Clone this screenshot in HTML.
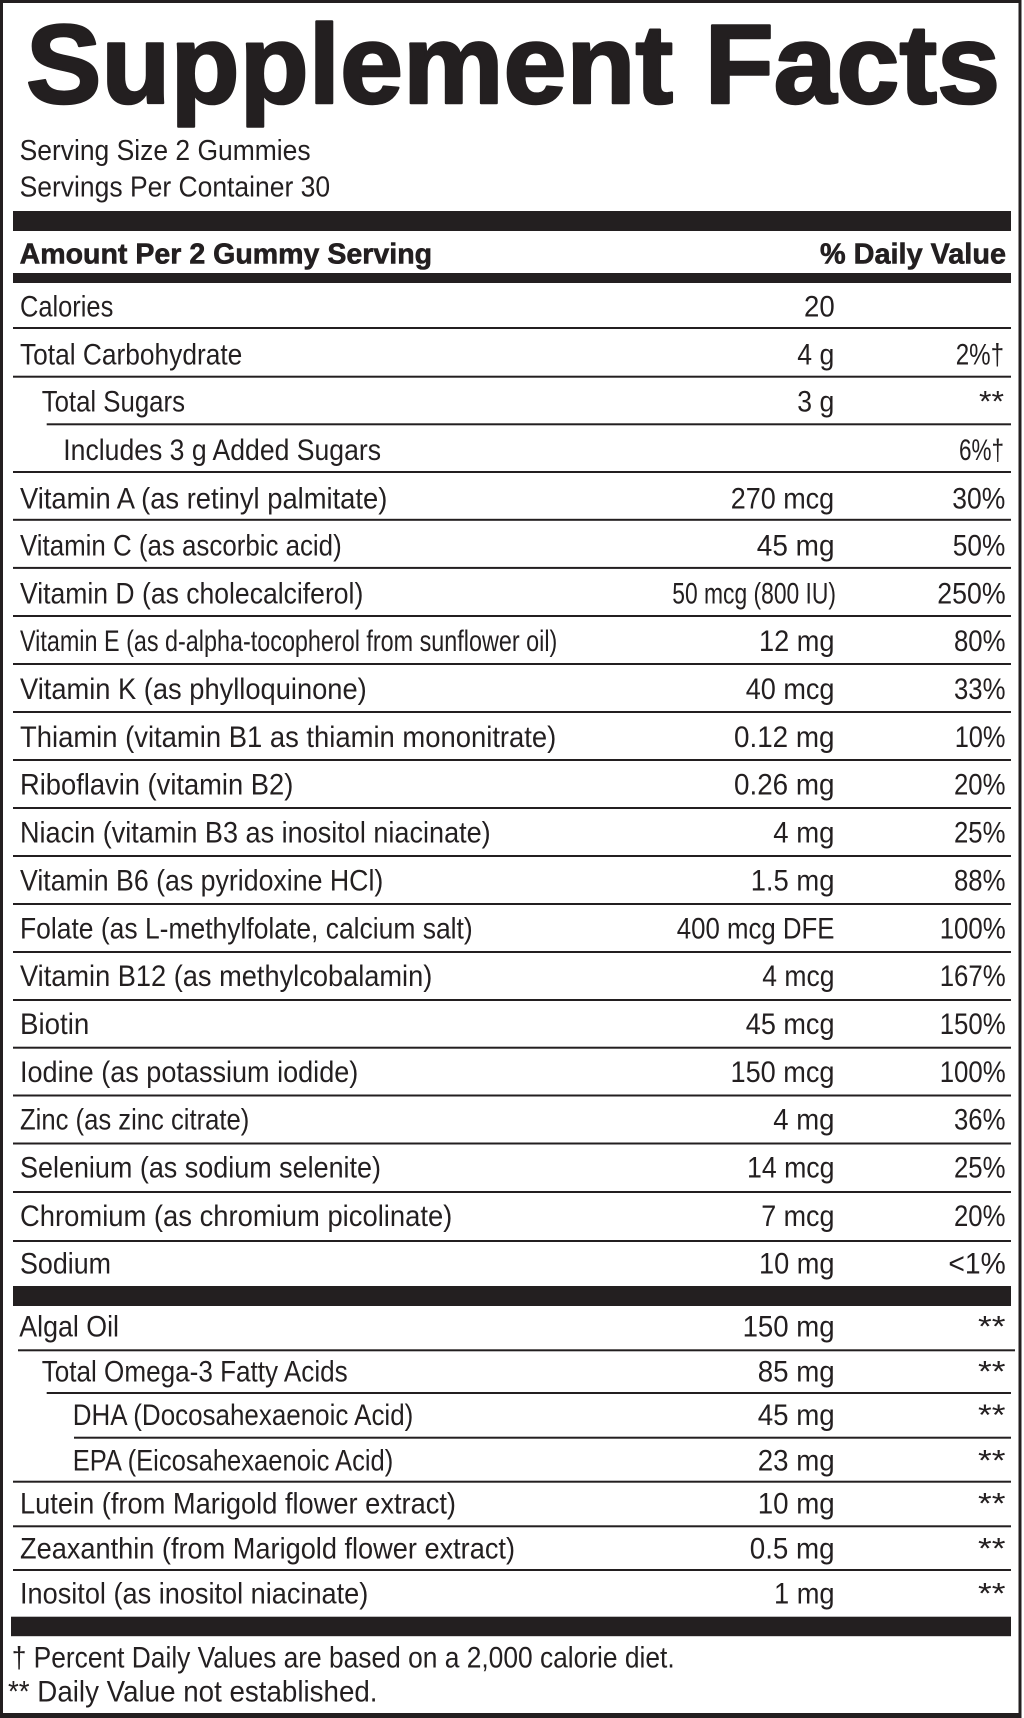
<!DOCTYPE html>
<html>
<head>
<meta charset="utf-8">
<style>
  html,body{margin:0;padding:0;background:#fff;}
  svg{display:block;}
  text{font-family:"Liberation Sans", Arial, sans-serif; fill:#231f20;}
  .b{font-size:30px;}
  .h{font-size:29px;font-weight:bold;stroke:#231f20;stroke-width:0.6px;}
  .t{font-size:112px;font-weight:bold;stroke:#231f20;stroke-width:2.5px;stroke-linejoin:round;}
  .s{font-size:29px;}
</style>
</head>
<body>
<svg width="1024" height="1718" viewBox="0 0 1024 1718" xmlns="http://www.w3.org/2000/svg">
  <rect x="0" y="0" width="1024" height="1718" fill="#fff"/>
  <!-- outer border -->
  <rect x="0" y="0" width="1021.5" height="3" fill="#231f20"/>
  <rect x="0" y="0" width="3" height="1718" fill="#231f20"/>
  <rect x="1018.5" y="0" width="3" height="1718" fill="#231f20"/>
  <rect x="0" y="1713" width="1021.5" height="5" fill="#231f20"/>

  <!-- title -->
  <text class="t" x="26" y="103" textLength="974" lengthAdjust="spacingAndGlyphs">Supplement Facts</text>
  <text class="s" x="19.6" y="160" textLength="291" lengthAdjust="spacingAndGlyphs">Serving Size 2 Gummies</text>
  <text class="s" x="19.6" y="196.7" textLength="310.5" lengthAdjust="spacingAndGlyphs">Servings Per Container 30</text>

  <!-- bars -->
  <rect x="13" y="211" width="998" height="20" fill="#231f20"/>
  <text class="h" x="19.6" y="263.3" textLength="412.5" lengthAdjust="spacingAndGlyphs">Amount Per 2 Gummy Serving</text>
  <text class="h" x="820" y="263.3" textLength="186" lengthAdjust="spacingAndGlyphs">% Daily Value</text>
  <rect x="13" y="273" width="998" height="10" fill="#231f20"/>

  <!-- separator lines upper -->
  <g fill="#231f20">
    <rect x="13" y="327" width="998" height="2"/>
    <rect x="13" y="375.7" width="998" height="2"/>
    <rect x="46.7" y="423.3" width="964.3" height="2"/>
    <rect x="13" y="471" width="998" height="2"/>
    <rect x="13" y="518.8" width="998" height="2"/>
    <rect x="13" y="566.9" width="998" height="2"/>
    <rect x="13" y="615" width="998" height="2"/>
    <rect x="13" y="663" width="998" height="2"/>
    <rect x="13" y="711" width="998" height="2"/>
    <rect x="13" y="759" width="998" height="2"/>
    <rect x="13" y="807" width="998" height="2"/>
    <rect x="13" y="855" width="998" height="2"/>
    <rect x="13" y="903" width="998" height="2"/>
    <rect x="13" y="951" width="998" height="2"/>
    <rect x="13" y="999" width="998" height="2"/>
    <rect x="13" y="1046.7" width="998" height="2"/>
    <rect x="13" y="1094.5" width="998" height="2"/>
    <rect x="13" y="1142.5" width="998" height="2"/>
    <rect x="13" y="1191" width="998" height="2"/>
    <rect x="13" y="1240" width="998" height="2"/>
  </g>

  <!-- rows upper -->
  <g class="b">
    <text class="b" x="20" y="316.7" textLength="93.3" lengthAdjust="spacingAndGlyphs">Calories</text>
    <text class="b" x="804" y="316.7" textLength="30.7" lengthAdjust="spacingAndGlyphs">20</text>

    <text class="b" x="20" y="364.3" textLength="222.3" lengthAdjust="spacingAndGlyphs">Total Carbohydrate</text>
    <text class="b" x="797.3" y="364.3" textLength="37" lengthAdjust="spacingAndGlyphs">4 g</text>
    <text class="b" x="955.7" y="364.3" textLength="48.3" lengthAdjust="spacingAndGlyphs">2%†</text>

    <text class="b" x="41.7" y="411.7" textLength="143.3" lengthAdjust="spacingAndGlyphs">Total Sugars</text>
    <text class="b" x="797.3" y="411.7" textLength="37" lengthAdjust="spacingAndGlyphs">3 g</text>
    <text class="b" x="979" y="411.7" textLength="25" lengthAdjust="spacingAndGlyphs">**</text>

    <text class="b" x="63.3" y="460" textLength="317.7" lengthAdjust="spacingAndGlyphs">Includes 3 g Added Sugars</text>
    <text class="b" x="959" y="460" textLength="45" lengthAdjust="spacingAndGlyphs">6%†</text>

    <text class="b" x="20" y="508.3" textLength="367.3" lengthAdjust="spacingAndGlyphs">Vitamin A (as retinyl palmitate)</text>
    <text class="b" x="730.7" y="508.3" textLength="103.5" lengthAdjust="spacingAndGlyphs">270 mcg</text>
    <text class="b" x="952.3" y="508.3" textLength="53" lengthAdjust="spacingAndGlyphs">30%</text>

    <text class="b" x="20" y="555.5" textLength="321.7" lengthAdjust="spacingAndGlyphs">Vitamin C (as ascorbic acid)</text>
    <text class="b" x="756.8" y="555.5" textLength="77.7" lengthAdjust="spacingAndGlyphs">45 mg</text>
    <text class="b" x="952.8" y="555.5" textLength="52.5" lengthAdjust="spacingAndGlyphs">50%</text>

    <text class="b" x="20" y="603.3" textLength="343.3" lengthAdjust="spacingAndGlyphs">Vitamin D (as cholecalciferol)</text>
    <text class="b" x="672.3" y="603.3" textLength="163.7" lengthAdjust="spacingAndGlyphs">50 mcg (800 IU)</text>
    <text class="b" x="937.3" y="603.3" textLength="68.4" lengthAdjust="spacingAndGlyphs">250%</text>

    <text class="b" x="20" y="651.2" textLength="537.3" lengthAdjust="spacingAndGlyphs">Vitamin E (as d-alpha-tocopherol from sunflower oil)</text>
    <text class="b" x="759" y="651.2" textLength="75.5" lengthAdjust="spacingAndGlyphs">12 mg</text>
    <text class="b" x="954" y="651.2" textLength="51.5" lengthAdjust="spacingAndGlyphs">80%</text>

    <text class="b" x="20" y="699" textLength="346.7" lengthAdjust="spacingAndGlyphs">Vitamin K (as phylloquinone)</text>
    <text class="b" x="745.7" y="699" textLength="88.8" lengthAdjust="spacingAndGlyphs">40 mcg</text>
    <text class="b" x="954" y="699" textLength="51.5" lengthAdjust="spacingAndGlyphs">33%</text>

    <text class="b" x="20" y="746.9" textLength="536.3" lengthAdjust="spacingAndGlyphs">Thiamin (vitamin B1 as thiamin mononitrate)</text>
    <text class="b" x="734" y="746.9" textLength="100.5" lengthAdjust="spacingAndGlyphs">0.12 mg</text>
    <text class="b" x="954.7" y="746.9" textLength="50.8" lengthAdjust="spacingAndGlyphs">10%</text>

    <text class="b" x="20" y="794.7" textLength="273.3" lengthAdjust="spacingAndGlyphs">Riboflavin (vitamin B2)</text>
    <text class="b" x="734" y="794.7" textLength="100.5" lengthAdjust="spacingAndGlyphs">0.26 mg</text>
    <text class="b" x="954" y="794.7" textLength="51.5" lengthAdjust="spacingAndGlyphs">20%</text>

    <text class="b" x="20" y="842.6" textLength="470.7" lengthAdjust="spacingAndGlyphs">Niacin (vitamin B3 as inositol niacinate)</text>
    <text class="b" x="773.3" y="842.6" textLength="61.2" lengthAdjust="spacingAndGlyphs">4 mg</text>
    <text class="b" x="954" y="842.6" textLength="51.5" lengthAdjust="spacingAndGlyphs">25%</text>

    <text class="b" x="20" y="890.5" textLength="363.3" lengthAdjust="spacingAndGlyphs">Vitamin B6 (as pyridoxine HCl)</text>
    <text class="b" x="750.7" y="890.5" textLength="83.8" lengthAdjust="spacingAndGlyphs">1.5 mg</text>
    <text class="b" x="954" y="890.5" textLength="51.5" lengthAdjust="spacingAndGlyphs">88%</text>

    <text class="b" x="20" y="938.3" textLength="452.7" lengthAdjust="spacingAndGlyphs">Folate (as L-methylfolate, calcium salt)</text>
    <text class="b" x="676.8" y="938.3" textLength="157.7" lengthAdjust="spacingAndGlyphs">400 mcg DFE</text>
    <text class="b" x="939.7" y="938.3" textLength="66" lengthAdjust="spacingAndGlyphs">100%</text>

    <text class="b" x="20" y="986.2" textLength="412.3" lengthAdjust="spacingAndGlyphs">Vitamin B12 (as methylcobalamin)</text>
    <text class="b" x="762.3" y="986.2" textLength="72.2" lengthAdjust="spacingAndGlyphs">4 mcg</text>
    <text class="b" x="939.7" y="986.2" textLength="66" lengthAdjust="spacingAndGlyphs">167%</text>

    <text class="b" x="20" y="1034" textLength="69.3" lengthAdjust="spacingAndGlyphs">Biotin</text>
    <text class="b" x="745.8" y="1034" textLength="88.7" lengthAdjust="spacingAndGlyphs">45 mcg</text>
    <text class="b" x="939.7" y="1034" textLength="66" lengthAdjust="spacingAndGlyphs">150%</text>

    <text class="b" x="20" y="1081.9" textLength="338.3" lengthAdjust="spacingAndGlyphs">Iodine (as potassium iodide)</text>
    <text class="b" x="730.5" y="1081.9" textLength="104" lengthAdjust="spacingAndGlyphs">150 mcg</text>
    <text class="b" x="939.7" y="1081.9" textLength="66" lengthAdjust="spacingAndGlyphs">100%</text>

    <text class="b" x="20" y="1129.7" textLength="229.3" lengthAdjust="spacingAndGlyphs">Zinc (as zinc citrate)</text>
    <text class="b" x="773.3" y="1129.7" textLength="61.2" lengthAdjust="spacingAndGlyphs">4 mg</text>
    <text class="b" x="954" y="1129.7" textLength="51.5" lengthAdjust="spacingAndGlyphs">36%</text>

    <text class="b" x="20" y="1177.5" textLength="361" lengthAdjust="spacingAndGlyphs">Selenium (as sodium selenite)</text>
    <text class="b" x="747" y="1177.5" textLength="87.5" lengthAdjust="spacingAndGlyphs">14 mcg</text>
    <text class="b" x="954" y="1177.5" textLength="51.5" lengthAdjust="spacingAndGlyphs">25%</text>

    <text class="b" x="20" y="1226.2" textLength="432.3" lengthAdjust="spacingAndGlyphs">Chromium (as chromium picolinate)</text>
    <text class="b" x="761.2" y="1226.2" textLength="73.3" lengthAdjust="spacingAndGlyphs">7 mcg</text>
    <text class="b" x="954" y="1226.2" textLength="51.5" lengthAdjust="spacingAndGlyphs">20%</text>

    <text class="b" x="20" y="1273.4" textLength="91" lengthAdjust="spacingAndGlyphs">Sodium</text>
    <text class="b" x="759" y="1273.4" textLength="75.5" lengthAdjust="spacingAndGlyphs">10 mg</text>
    <text class="b" x="948.4" y="1273.4" textLength="57.3" lengthAdjust="spacingAndGlyphs">&lt;1%</text>
  </g>

  <!-- thick bar 3 -->
  <rect x="13" y="1286" width="998" height="20" fill="#231f20"/>

  <!-- lower lines -->
  <g fill="#231f20">
    <rect x="18" y="1349.3" width="997" height="2"/>
    <rect x="46.7" y="1392" width="964.3" height="2"/>
    <rect x="74" y="1436.7" width="937" height="2"/>
    <rect x="13" y="1480.7" width="998" height="2"/>
    <rect x="13" y="1525.3" width="998" height="2"/>
    <rect x="13" y="1569" width="998" height="2"/>
  </g>

  <g>
    <text class="b" x="19.3" y="1336.7" textLength="99.7" lengthAdjust="spacingAndGlyphs">Algal Oil</text>
    <text class="b" x="742.6" y="1336.7" textLength="92" lengthAdjust="spacingAndGlyphs">150 mg</text>
    <text class="b" x="978" y="1336.7" textLength="27.5" lengthAdjust="spacingAndGlyphs">**</text>

    <text class="b" x="41.7" y="1381.7" textLength="306" lengthAdjust="spacingAndGlyphs">Total Omega-3 Fatty Acids</text>
    <text class="b" x="757.7" y="1381.7" textLength="77" lengthAdjust="spacingAndGlyphs">85 mg</text>
    <text class="b" x="978" y="1381.7" textLength="27.5" lengthAdjust="spacingAndGlyphs">**</text>

    <text class="b" x="72.7" y="1425" textLength="340.6" lengthAdjust="spacingAndGlyphs">DHA (Docosahexaenoic Acid)</text>
    <text class="b" x="757.7" y="1425" textLength="77" lengthAdjust="spacingAndGlyphs">45 mg</text>
    <text class="b" x="978" y="1425" textLength="27.5" lengthAdjust="spacingAndGlyphs">**</text>

    <text class="b" x="72.7" y="1470.7" textLength="320.6" lengthAdjust="spacingAndGlyphs">EPA (Eicosahexaenoic Acid)</text>
    <text class="b" x="757.7" y="1470.7" textLength="77" lengthAdjust="spacingAndGlyphs">23 mg</text>
    <text class="b" x="978" y="1470.7" textLength="27.5" lengthAdjust="spacingAndGlyphs">**</text>

    <text class="b" x="20" y="1513.3" textLength="436" lengthAdjust="spacingAndGlyphs">Lutein (from Marigold flower extract)</text>
    <text class="b" x="757.7" y="1513.3" textLength="77" lengthAdjust="spacingAndGlyphs">10 mg</text>
    <text class="b" x="978" y="1513.3" textLength="27.5" lengthAdjust="spacingAndGlyphs">**</text>

    <text class="b" x="20" y="1558.3" textLength="495" lengthAdjust="spacingAndGlyphs">Zeaxanthin (from Marigold flower extract)</text>
    <text class="b" x="749.8" y="1558.3" textLength="84.8" lengthAdjust="spacingAndGlyphs">0.5 mg</text>
    <text class="b" x="978" y="1558.3" textLength="27.5" lengthAdjust="spacingAndGlyphs">**</text>

    <text class="b" x="20" y="1603.3" textLength="348.3" lengthAdjust="spacingAndGlyphs">Inositol (as inositol niacinate)</text>
    <text class="b" x="774" y="1603.3" textLength="60.6" lengthAdjust="spacingAndGlyphs">1 mg</text>
    <text class="b" x="978" y="1603.3" textLength="27.5" lengthAdjust="spacingAndGlyphs">**</text>
  </g>

  <!-- thick bar 4 -->
  <rect x="11" y="1616.7" width="1000" height="19.5" fill="#231f20"/>

  <!-- footnotes -->
  <text class="b" x="11.7" y="1667.3" textLength="663" lengthAdjust="spacingAndGlyphs">† Percent Daily Values are based on a 2,000 calorie diet.</text>
  <text class="b" x="8" y="1701.7" textLength="369.5" lengthAdjust="spacingAndGlyphs">** Daily Value not established.</text>
</svg>
</body>
</html>
